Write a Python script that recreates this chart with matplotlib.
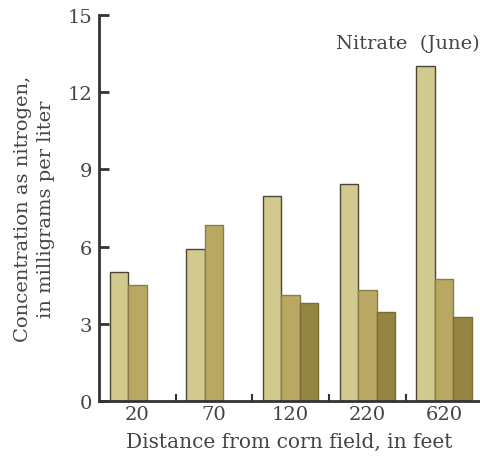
import matplotlib
matplotlib.use("Agg")
import matplotlib.pyplot as plt
import numpy as np

distances = ["20", "70", "120", "220", "620"]
series1 = [5.0, 5.9, 7.95, 8.45, 13.0]
series2 = [4.5, 6.85, 4.1, 4.3, 4.75]
series3 = [np.nan, np.nan, 3.8, 3.45, 3.25]
yticks = [0, 3, 6, 9, 12, 15]

plt.rcParams['font.family'] = ['DejaVu Serif']

fig = plt.figure(figsize=(4.8, 4.6), dpi=100)
ax = fig.add_axes([99/480, 58/460, 1 - 99/480, (402-16)/460])

x = np.arange(len(distances))
w = 0.24
cols = ['#d2c98e', '#b9a862', '#958543']
edges = ['#4a4535', '#8a7d48', '#7a6c35']
for k, (vals, c, e) in enumerate(zip([series1, series2, series3], cols, edges)):
    ax.bar(x + (k - 1) * w, vals, width=w, color=c, edgecolor=e, linewidth=1.0)

ax.set_xlim(-0.5, 4.47)
ax.set_ylim(0, 15)
ax.spines['top'].set_visible(False)
ax.spines['right'].set_visible(False)
for s in ['left', 'bottom']:
    ax.spines[s].set_linewidth(2)
    ax.spines[s].set_color('#333333')

ax.set_yticks(yticks)
ax.set_yticklabels([str(t) for t in yticks])
ax.tick_params(axis='y', direction='in', length=7, width=2, color='#333333',
               labelsize=14, labelcolor='#444444', pad=5)
ax.set_xticks(x)
ax.set_xticklabels(distances)
ax.tick_params(axis='x', length=0, labelsize=14, labelcolor='#444444', pad=3)
ax.set_xticks(x[:-1] + 0.5, minor=True)
ax.tick_params(axis='x', which='minor', direction='in', length=5, width=1.5, color='#333333')

ax.set_xlabel("Distance from corn field, in feet", fontsize=14.5, color='#444444', labelpad=6)
ax.set_ylabel("Concentration as nitrogen,\nin milligrams per liter", fontsize=14,
              color='#444444', linespacing=1.35, labelpad=9)

fig.text(1.0, 0.905, "Nitrate  (June)", ha='right', va='center', fontsize=14, color='#444444')

fig.savefig("out.png", dpi=100)
